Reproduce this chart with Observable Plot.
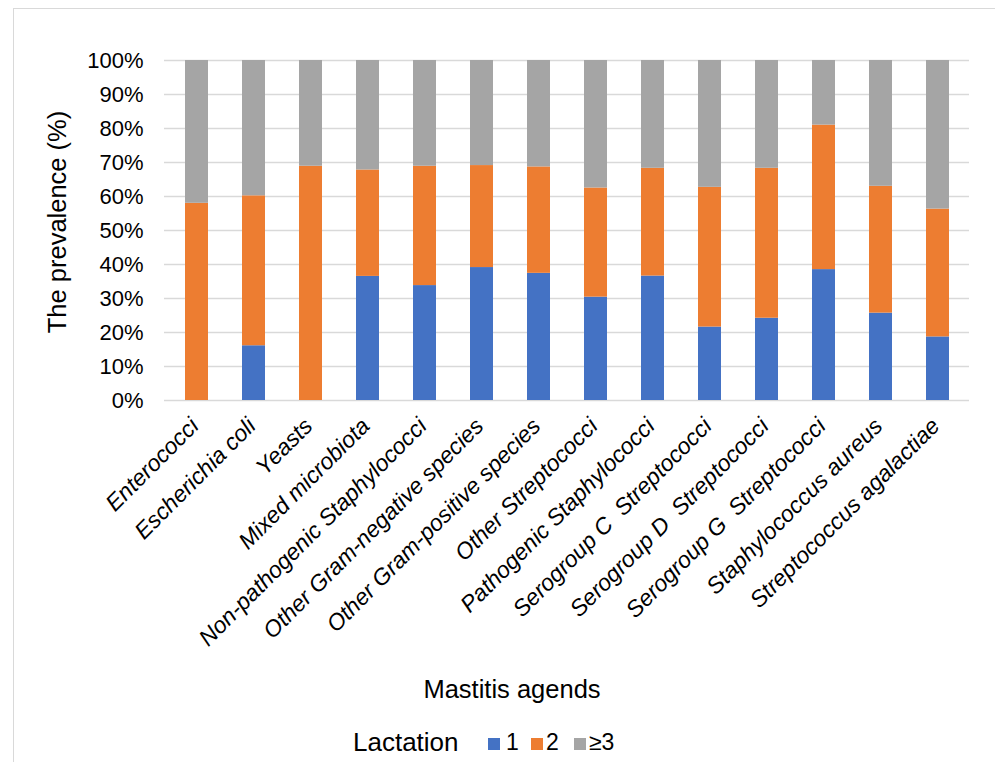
<!DOCTYPE html>
<html>
<head>
<meta charset="utf-8">
<script src="https://cdn.jsdelivr.net/npm/d3@7"></script>
<script src="https://cdn.jsdelivr.net/npm/@observablehq/plot@0.6"></script>
<style>
  html, body { margin: 0; padding: 0; background: #fff; }
  #page {
    position: relative; width: 995px; height: 762px; overflow: hidden;
    font-family: "Liberation Sans", Arial, sans-serif; color: #000;
  }
  #frame {
    position: absolute; left: 12.5px; top: 7.5px; width: 1000px; height: 800px;
    border-left: 1.5px solid #d9d9d9; border-top: 1.5px solid #d9d9d9;
  }
  #chart { position: absolute; left: 0; top: 0; }
  .lbl { position: absolute; line-height: 1; white-space: pre; }
  .sw { position: absolute; width: 12px; height: 12px; }
</style>
</head>
<body>
<div id="page">
  <div id="frame"></div>
  <div id="chart"></div>
  <div class="lbl" style="left:412px; width:200px; text-align:center; top:676.5px; font-size:25.5px;">Mastitis agends</div>
  <div id="legend"></div>
</div>
<script>
// Mastitis agents, in axis order
const categories = [
  "Enterococci",
  "Escherichia coli",
  "Yeasts",
  "Mixed microbiota",
  "Non-pathogenic Staphylococci",
  "Other Gram-negative species",
  "Other Gram-positive species",
  "Other Streptococci",
  "Pathogenic Staphylococci",
  "Serogroup C\u00a0 Streptococci",
  "Serogroup D\u00a0 Streptococci",
  "Serogroup G\u00a0 Streptococci",
  "Staphylococcus aureus",
  "Streptococcus agalactiae"
];

// Share of cases (%) by lactation number
const lactation1 = [0, 16.1, 0, 36.5, 33.8, 39.1, 37.4, 30.4, 36.6, 21.6, 24.2, 38.5, 25.7, 18.7];
const lactation2 = [58.0, 44.1, 68.9, 31.3, 35.1, 30.0, 31.3, 32.1, 31.7, 41.1, 44.1, 42.5, 37.3, 37.6];
const lactation3 = [42.0, 39.8, 31.1, 32.2, 31.1, 30.9, 31.3, 37.5, 31.7, 37.3, 31.7, 19.0, 37.0, 43.7];

const seriesNames = ["1", "2", "≥3"];
const seriesColors = ["#4472C4", "#ED7D31", "#A5A5A5"];
const yTicks = [0, 10, 20, 30, 40, 50, 60, 70, 80, 90, 100];

const seriesValues = [lactation1, lactation2, lactation3];
const rows = [];
seriesNames.forEach((s, i) => {
  categories.forEach((c, j) => rows.push({agent: c, lactation: s, value: seriesValues[i][j]}));
});

const font = "Liberation Sans, Arial, sans-serif";

const chart = Plot.plot({
  width: 995,
  height: 662,
  marginLeft: 164,
  marginRight: 26,
  marginTop: 60,
  marginBottom: 262,
  style: {fontFamily: font, background: "transparent", color: "#000", overflow: "visible"},
  x: {domain: categories, paddingInner: 0.6, paddingOuter: 0.3, axis: null},
  y: {domain: [0, 100], axis: null},
  color: {domain: seriesNames, range: seriesColors},
  marks: [
    Plot.ruleY(yTicks, {stroke: "#d9d9d9", strokeWidth: 1.4}),
    Plot.barY(rows, Plot.stackY({x: "agent", y: "value", fill: "lactation"})),
    Plot.axisY({
      ticks: yTicks, tickSize: 0, tickPadding: 21, fontSize: 22,
      tickFormat: d => d + "%", label: null, fill: "#000"
    }),
    Plot.text(["The prevalence (%)"], {
      frameAnchor: "left", rotate: -90, dx: -99, dy: -8.5,
      lineAnchor: "bottom", textAnchor: "middle", fontSize: 25.5, fill: "#000"
    }),
    Plot.text(categories, {
      x: d => d, frameAnchor: "bottom", rotate: -45, dx: 3, dy: 27,
      textAnchor: "end", lineAnchor: "bottom",
      fontSize: 23, fontStyle: "italic", fill: "#000"
    })
  ]
});
document.getElementById("chart").appendChild(chart);

// Legend row below the chart
const legend = document.getElementById("legend");
const title = document.createElement("div");
title.className = "lbl";
title.textContent = "Lactation";
title.style.cssText = "left:353px; top:728.7px; font-size:26px;";
legend.appendChild(title);
const swatchX = [488, 531, 574];
const labelX = [506, 546, 589];
seriesNames.forEach((s, i) => {
  const sw = document.createElement("div");
  sw.className = "sw";
  sw.style.cssText = `left:${swatchX[i]}px; top:738px; background:${seriesColors[i]};`;
  legend.appendChild(sw);
  const t = document.createElement("div");
  t.className = "lbl";
  t.textContent = s;
  t.style.cssText = `left:${labelX[i]}px; top:731.2px; font-size:23px;`;
  legend.appendChild(t);
});
</script>
</body>
</html>
